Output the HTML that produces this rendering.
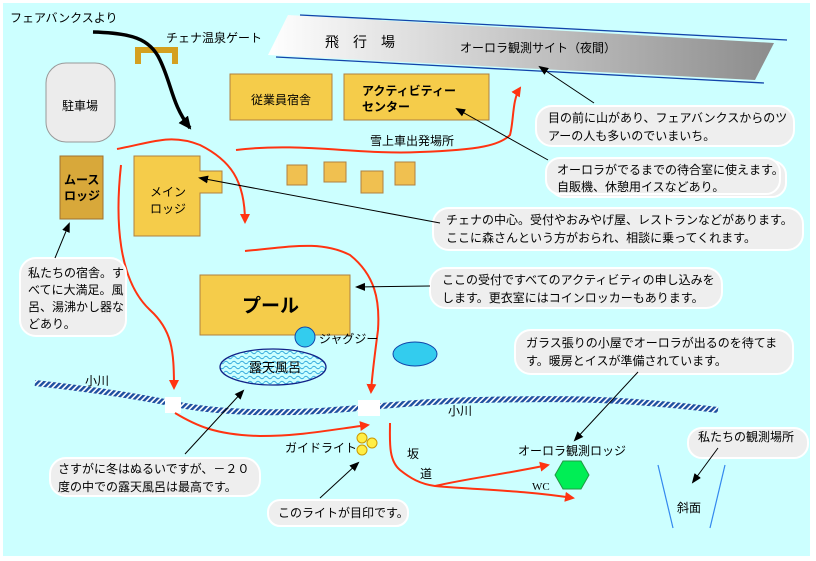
<!DOCTYPE html>
<html><head><meta charset="utf-8"><style>
html,body{margin:0;padding:0;background:#fff;}
svg{display:block;}
text{font-family:"Liberation Sans","Noto Sans CJK JP",sans-serif;font-size:12px;fill:#000;}
.b{font-weight:bold;}
</style></head><body>
<svg width="816" height="561" viewBox="0 0 816 561" xmlns="http://www.w3.org/2000/svg">
<defs>
<linearGradient id="air" x1="0" y1="0" x2="1" y2="0">
<stop offset="0" stop-color="#ffffff"/><stop offset="1" stop-color="#8c8c8c"/>
</linearGradient>
<pattern id="riv" width="4" height="4" patternUnits="userSpaceOnUse" patternTransform="rotate(45)">
<rect width="4" height="4" fill="#ffffff"/><rect width="2.4" height="4" fill="#1d4fa0"/>
</pattern>
<pattern id="wave" width="8" height="5" patternUnits="userSpaceOnUse">
<rect width="8" height="5" fill="#ccffff"/><path d="M0 2.5 Q2 0 4 2.5 T8 2.5" stroke="#33aadd" fill="none" stroke-width="1"/>
</pattern>
<marker id="ar" markerWidth="10" markerHeight="10" refX="8" refY="5" orient="auto" markerUnits="userSpaceOnUse">
<path d="M0 0 L10 5 L0 10 z" fill="#ff3311"/></marker>
<marker id="ak" markerWidth="10" markerHeight="10" refX="8" refY="5" orient="auto" markerUnits="userSpaceOnUse">
<path d="M0 1 L10 5 L0 9 z" fill="#000"/></marker>
<marker id="akb" markerWidth="14" markerHeight="14" refX="11" refY="7" orient="auto" markerUnits="userSpaceOnUse">
<path d="M0 1 L13 7 L0 13 z" fill="#000"/></marker>
</defs>
<rect x="3" y="3" width="807" height="553" fill="#ccffff"/>

<!-- airfield -->
<polygon points="288,15 774,43 755,80 268,55" fill="url(#air)"/>
<polyline points="300,15 787,40" stroke="#1144aa" stroke-width="1.3" fill="none"/>
<polyline points="276,57 764,83" stroke="#1144aa" stroke-width="1.3" fill="none"/>
<text x="325" y="47" style="font-size:14px">飛　行　場</text>
<text x="460" y="52">オーロラ観測サイト（夜間）</text>

<text x="10" y="22">フェアバンクスより</text>
<text x="166" y="42">チェナ温泉ゲート</text>
<path d="M135 47 H178 V64 H172 V53 H141 V64 H135 Z" fill="#d4a020"/>
<path d="M93 32 C130 33 150 38 160 60 C172 85 172 105 190 128" stroke="#000" stroke-width="3.5" fill="none" marker-end="url(#akb)"/>

<rect x="46" y="63" width="69" height="79" rx="20" fill="#ececec" stroke="#999"/>
<text x="62" y="110">駐車場</text>

<rect x="230" y="74" width="102" height="46" fill="#f5cc4a" stroke="#b08040"/>
<text x="251" y="104">従業員宿舎</text>
<rect x="344" y="74" width="145" height="46" fill="#f5cc4a" stroke="#b08040"/>
<text x="362" y="95" class="b">アクティビティー</text>
<text x="362" y="111" class="b">センター</text>
<text x="370" y="145">雪上車出発場所</text>

<path d="M236 150 C300 142 360 155 420 152 C480 150 500 145 510 135 C514 120 512 100 520 88" stroke="#ff3311" stroke-width="2" fill="none" marker-end="url(#ar)"/>

<rect x="287" y="165" width="20" height="20" fill="#f0c050" stroke="#b08040"/>
<rect x="324" y="162" width="22" height="20" fill="#f0c050" stroke="#b08040"/>
<rect x="361" y="171" width="22" height="22" fill="#f0c050" stroke="#b08040"/>
<rect x="395" y="162" width="20" height="23" fill="#f0c050" stroke="#b08040"/>

<rect x="60" y="156" width="43" height="63" fill="#d8a83a" stroke="#a07030"/>
<text x="64" y="184" class="b">ムース</text>
<text x="64" y="200" class="b">ロッジ</text>

<path d="M134 156 H200 V171 H222 V193 H200 V236 H134 Z" fill="#f5cc4a" stroke="#b08040"/>
<text x="150" y="196">メイン</text>
<text x="150" y="213">ロッジ</text>

<path d="M117 149 C150 143 170 133 200 145 C230 160 245 180 245 222" stroke="#ff3311" stroke-width="2" fill="none" marker-end="url(#ar)"/>
<path d="M121 165 C115 220 118 280 150 310 C172 330 174 350 174 388" stroke="#ff3311" stroke-width="2" fill="none" marker-end="url(#ar)"/>
<path d="M245 251 C290 247 320 240 350 255 C375 275 380 300 378 330 C374 360 372 375 371 392" stroke="#ff3311" stroke-width="2" fill="none" marker-end="url(#ar)"/>

<rect x="200" y="275" width="150" height="60" fill="#f5cc4a" stroke="#b08040"/>
<text x="242" y="312" class="b" style="font-size:19px">プール</text>

<circle cx="305" cy="337" r="10" fill="#33ccee" stroke="#1144aa"/>
<text x="319" y="343">ジャグジー</text>
<ellipse cx="415" cy="354" rx="22" ry="12" fill="#33ccee" stroke="#1144aa"/>
<ellipse cx="273" cy="367" rx="53" ry="18" fill="url(#wave)" stroke="#112288" stroke-width="1.3"/>
<text x="249" y="372" style="font-size:13px">露天風呂</text>

<path d="M35 383 C80 388 130 395 170 403 C210 412 260 414 320 411 C380 407 420 401 480 400 C560 398 620 398 718 410" stroke="url(#riv)" stroke-width="6" fill="none"/>
<rect x="165" y="397" width="16" height="16" fill="#fff"/>
<rect x="358" y="400" width="22" height="16" fill="#fff"/>
<text x="85" y="385">小川</text>
<text x="448" y="415">小川</text>

<path d="M175 413 C195 425 215 435 260 436 C300 436 330 430 368 425" stroke="#ff3311" stroke-width="2" fill="none" marker-end="url(#ar)"/>

<circle cx="362" cy="438" r="5" fill="#ffee44" stroke="#cc9900"/>
<circle cx="372" cy="443" r="5" fill="#ffee44" stroke="#cc9900"/>
<circle cx="362" cy="450" r="5" fill="#ffee44" stroke="#cc9900"/>
<text x="285" y="452">ガイドライト</text>
<text x="407" y="458">坂</text>
<text x="420" y="478">道</text>

<path d="M390 423 C390 440 388 460 400 470 C410 478 420 484 435 486 C470 478 500 475 548 465" stroke="#ff3311" stroke-width="2" fill="none" marker-end="url(#ar)"/>
<path d="M435 486 C480 490 520 490 573 498" stroke="#ff3311" stroke-width="2" fill="none" marker-end="url(#ar)"/>

<polygon points="555,475 563,461 581,461 589,475 581,489 563,489" fill="#00ee55" stroke="#229944"/>
<text x="518" y="455">オーロラ観測ロッジ</text>
<text x="532" y="490" style="font-family:'Liberation Serif',serif;font-size:11px">WC</text>

<line x1="658" y1="465" x2="673" y2="528" stroke="#3388ee" stroke-width="1.2"/>
<line x1="725" y1="465" x2="710" y2="528" stroke="#3388ee" stroke-width="1.2"/>
<text x="677" y="512">斜面</text>

<!-- callouts -->
<g fill="#eeeeee" stroke="#ffffff" stroke-width="2">
<rect x="536" y="106" width="258" height="40" rx="16"/>
<rect x="550" y="161" width="236" height="36" rx="14"/>
<rect x="546" y="158" width="234" height="36" rx="14"/>
<rect x="433" y="208" width="370" height="42" rx="16"/>
<rect x="430" y="268" width="292" height="40" rx="16"/>
<rect x="515" y="330" width="278" height="44" rx="16"/>
<rect x="688" y="428" width="120" height="30" rx="14"/>
<rect x="20" y="258" width="106" height="78" rx="16"/>
<rect x="50" y="458" width="210" height="38" rx="16"/>
<rect x="268" y="500" width="140" height="26" rx="12"/>
</g>
<text x="548" y="122">目の前に山があり、フェアバンクスからのツ</text>
<text x="548" y="140">アーの人も多いのでいまいち。</text>
<text x="557" y="174">オーロラがでるまでの待合室に使えます。</text>
<text x="557" y="191">自販機、休憩用イスなどあり。</text>
<text x="446" y="224">チェナの中心。受付やおみやげ屋、レストランなどがあります。</text>
<text x="446" y="242">ここに森さんという方がおられ、相談に乗ってくれます。</text>
<text x="442" y="284">ここの受付ですべてのアクティビティの申し込みを</text>
<text x="442" y="302">します。更衣室にはコインロッカーもあります。</text>
<text x="526" y="347">ガラス張りの小屋でオーロラが出るのを待てま</text>
<text x="526" y="365">す。暖房とイスが準備されています。</text>
<text x="698" y="441">私たちの観測場所</text>
<text x="28" y="277">私たちの宿舎。す</text>
<text x="28" y="294">べてに大満足。風</text>
<text x="28" y="311">呂、湯沸かし器な</text>
<text x="28" y="328">どあり。</text>
<text x="58" y="473">さすがに冬はぬるいですが、－２０</text>
<text x="58" y="491">度の中での露天風呂は最高です。</text>
<text x="278" y="517">このライトが目印です。</text>

<g stroke="#000" stroke-width="1" fill="none">
<line x1="594" y1="103" x2="540" y2="67" marker-end="url(#ak)"/>
<line x1="548" y1="160" x2="457" y2="109" marker-end="url(#ak)"/>
<line x1="440" y1="223" x2="200" y2="178" marker-end="url(#ak)"/>
<line x1="430" y1="286" x2="357" y2="287" marker-end="url(#ak)"/>
<line x1="638" y1="372" x2="575" y2="440" marker-end="url(#ak)"/>
<line x1="718" y1="448" x2="693" y2="482" marker-end="url(#ak)"/>
<line x1="55" y1="258" x2="69" y2="224" marker-end="url(#ak)"/>
<line x1="185" y1="454" x2="243" y2="391" marker-end="url(#ak)"/>
<line x1="320" y1="498" x2="358" y2="463" marker-end="url(#ak)"/>
</g>
</svg>
</body></html>
